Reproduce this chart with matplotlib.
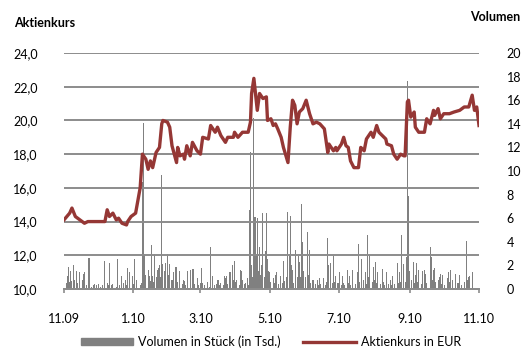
import matplotlib.pyplot as plt
from matplotlib.patches import Patch
from matplotlib.lines import Line2D
import pandas as pd

# Tage seit 01.11.2009
kurs_tag = [0, 5, 7, 10, 14, 18, 21, 36, 38, 40, 43, 46, 48, 51, 55, 56, 59, 63,
            67, 69, 72, 74, 76, 78, 81, 84, 86, 87, 91, 93, 95, 99, 100, 102, 105,
            106, 108, 111, 113, 117, 120, 122, 127, 129, 133, 135, 138, 142, 144,
            149, 150, 153, 157, 162, 164, 165, 167, 170, 172, 175, 178, 179, 182,
            184, 186, 188, 191, 193, 197, 199, 201, 203, 205, 207, 210, 213, 216,
            219, 222, 225, 229, 232, 233, 237, 239, 240, 244, 246, 248, 250, 252,
            255, 259, 261, 264, 266, 270, 272, 275, 277, 280, 283, 284, 288, 290,
            293, 296, 299, 300, 301, 302, 303, 305, 308, 309, 312, 317, 319, 322,
            325, 326, 329, 331, 334, 339, 343, 348, 352, 356, 359, 361, 363, 365]
kurs = [14.1, 14.5, 14.8, 14.3, 14.1, 13.9, 14.0, 14.0, 14.7, 14.3, 14.5, 14.1, 14.2,
        13.9, 13.8, 14.0, 14.3, 14.5, 16.0, 18.0, 17.7, 17.1, 17.6, 17.2, 18.1, 18.4,
        19.8, 20.0, 19.9, 19.6, 18.5, 17.5, 18.4, 17.9, 18.0, 17.7, 18.5, 17.9, 18.7,
        18.2, 18.0, 19.0, 18.9, 19.7, 19.3, 19.6, 19.1, 18.7, 19.0, 19.0, 19.3, 19.0,
        19.3, 19.3, 19.9, 21.6, 22.5, 20.6, 21.6, 21.3, 21.4, 20.0, 20.1, 19.7, 19.8,
        19.5, 19.0, 18.4, 17.5, 19.6, 21.2, 20.9, 19.8, 20.5, 20.7, 21.2, 20.4, 19.8,
        19.9, 19.8, 19.5, 18.1, 18.6, 18.2, 18.4, 18.2, 18.6, 19.0, 18.5, 18.4, 17.6,
        17.2, 17.2, 18.4, 18.2, 18.9, 19.3, 19.0, 19.7, 19.3, 19.1, 18.9, 18.6, 18.5,
        18.0, 17.7, 18.0, 17.9, 17.9, 19.5, 21.1, 21.2, 20.2, 20.5, 19.6, 19.3, 19.3,
        20.1, 19.8, 20.6, 20.3, 20.7, 20.1, 20.4, 20.4, 20.5, 20.6, 20.8, 20.8, 21.5,
        20.6, 20.8, 19.7]

vol_tag = [2, 3, 4, 5, 6, 7, 8, 9, 11, 12, 14, 16, 17, 18, 20, 22, 24, 26, 27, 29,
           30, 32, 34, 36, 38, 39, 40, 42, 43, 46, 47, 49, 51, 52, 54, 55, 56, 58,
           60, 61, 62, 64, 67, 68, 69, 70, 71, 72, 74, 75, 76, 77, 78, 79, 80, 81,
           82, 83, 84, 85, 86, 87, 88, 89, 91, 92, 93, 95, 96, 98, 99, 100, 102,
           104, 105, 106, 107, 109, 111, 113, 114, 115, 117, 118, 120, 121, 122,
           124, 126, 128, 129, 131, 132, 134, 135, 136, 137, 138, 140, 141, 142,
           143, 144, 146, 148, 149, 150, 151, 152, 154, 155, 156, 157, 159, 160,
           161, 162, 163, 164, 165, 166, 167, 168, 169, 170, 171, 172, 173, 174,
           175, 176, 177, 178, 179, 180, 181, 182, 184, 185, 186, 187, 189, 190,
           192, 193, 194, 196, 197, 198, 199, 200, 201, 202, 204, 205, 206, 207,
           208, 209, 210, 211, 212, 214, 215, 216, 217, 219, 221, 223, 224, 225,
           226, 228, 230, 231, 232, 233, 234, 236, 237, 238, 239, 241, 242, 244,
           245, 246, 247, 249, 250, 251, 252, 254, 256, 258, 259, 260, 262, 263,
           265, 266, 267, 268, 269, 271, 272, 273, 274, 275, 276, 278, 280, 281,
           282, 284, 285, 287, 288, 289, 291, 293, 294, 295, 296, 297, 299, 300,
           301, 302, 303, 304, 306, 307, 308, 309, 310, 311, 312, 314, 315, 317,
           318, 319, 322, 323, 324, 325, 326, 327, 329, 330, 331, 332, 333, 335,
           337, 338, 339, 340, 342, 344, 346, 347, 348, 350, 352, 354, 355, 356,
           357, 359]
volumen = [0.5, 1.1, 1.9, 0.6, 1.5, 0.7, 2.0, 0.8, 1.5, 0.5, 1.4, 0.8, 1.3, 1.4, 0.3,
           2.6, 0.2, 0.3, 0.4, 0.3, 0.4, 0.2, 0.3, 2.4, 0.5, 0.3, 2.2, 0.3, 0.4, 0.2,
           2.5, 0.3, 1.1, 0.5, 0.8, 0.3, 1.8, 1.4, 1.1, 0.4, 2.5, 0.8, 0.3, 0.5, 9.1,
           14.1, 3.0, 1.2, 1.6, 1.1, 0.7, 3.7, 1.1, 0.6, 3.0, 1.0, 1.6, 1.8, 2.0, 1.0,
           9.7, 2.1, 1.5, 2.2, 3.0, 1.2, 2.1, 0.8, 1.4, 1.9, 1.9, 0.6, 1.5, 0.4, 0.8,
           0.7, 0.3, 1.5, 1.6, 1.7, 1.7, 0.4, 0.9, 0.3, 0.5, 1.8, 0.5, 0.3, 0.6, 0.2,
           3.6, 1.1, 0.3, 0.4, 0.8, 0.8, 0.3, 0.5, 0.3, 1.1, 0.9, 1.1, 0.4, 1.4, 2.0,
           0.8, 2.4, 0.6, 0.8, 0.3, 1.6, 1.5, 0.8, 0.4, 0.5, 0.9, 0.3, 6.7, 11.6, 2.0,
           1.0, 14.5, 6.1, 3.0, 6.0, 1.5, 3.6, 1.2, 2.0, 6.4, 1.0, 3.2, 6.4, 2.5, 1.5,
           1.4, 0.6, 0.9, 0.5, 1.2, 1.4, 0.4, 1.1, 0.5, 2.4, 0.7, 1.0, 6.5, 3.0, 6.2,
           2.0, 1.6, 0.5, 3.3, 1.0, 2.8, 2.3, 1.0, 7.2, 4.0, 1.5, 1.0, 4.8, 1.2, 3.3,
           0.5, 0.8, 0.4, 0.8, 0.3, 0.9, 0.4, 0.9, 0.3, 0.6, 4.3, 2.0, 2.2, 0.5, 2.8,
           0.6, 1.1, 0.5, 1.4, 0.3, 1.1, 0.5, 0.3, 1.6, 0.5, 1.1, 0.3, 1.6, 0.4, 1.4,
           3.8, 0.6, 2.5, 0.8, 1.4, 0.4, 4.6, 1.0, 2.9, 0.6, 1.9, 0.8, 2.3, 0.5, 1.4,
           0.4, 1.7, 0.6, 0.3, 1.4, 0.4, 0.8, 0.3, 1.1, 0.4, 2.2, 0.5, 1.4, 0.6, 4.6,
           2.1, 0.6, 2.7, 17.6, 7.9, 1.5, 0.8, 2.3, 0.5, 1.2, 2.2, 0.6, 1.6, 0.4, 1.5,
           1.6, 1.3, 0.5, 3.6, 2.7, 0.8, 1.6, 1.8, 0.6, 0.8, 1.0, 1.3, 0.4, 1.2, 0.3,
           0.9, 1.4, 0.6, 1.6, 0.8, 1.3, 0.5, 0.5, 1.2, 0.3, 0.6, 4.1, 0.8, 1.0, 1.1,
           1.4]

monat_tag = [0, 61, 120, 181, 242, 304, 365]
monat_label = ["11.09", "1.10", "3.10", "5.10", "7.10", "9.10", "11.10"]

start = pd.Timestamp("2009-11-01")
kurs_x = start + pd.to_timedelta(kurs_tag, unit="D")
vol_x = start + pd.to_timedelta(vol_tag, unit="D")
monat_x = start + pd.to_timedelta(monat_tag, unit="D")

plt.rcParams["font.family"] = ["Lato", "DejaVu Sans"]
plt.rcParams["font.size"] = 9

rot = "#953735"
grau = "#808080"

fig = plt.figure(figsize=(5.21, 3.49), dpi=100)
ax = fig.add_axes([0.1228, 0.172, 0.7966, 0.676])
ax2 = ax.twinx()

ax2.bar(vol_x, volumen, width=0.9, color=grau, linewidth=0)
ax2.set_ylim(0, 20)
ax2.set_yticks(range(0, 21, 2))

ax.plot(kurs_x, kurs, color=rot, linewidth=2.4, solid_joinstyle="round")
ax.set_ylim(10, 24)
ax.set_yticks(range(10, 25, 2))
ax.set_yticklabels([f"{v},0" for v in range(10, 25, 2)])
ax.set_xlim(monat_x[0], monat_x[-1])
ax.set_xticks(monat_x)
ax.set_xticklabels(monat_label)
ax.grid(axis="y", color="#8c8c8c", linewidth=1.4)
ax.set_axisbelow(True)
ax.set_zorder(ax2.get_zorder() + 1)
ax.patch.set_visible(False)

for a in (ax, ax2):
    for s in ("top", "left", "right"):
        a.spines[s].set_visible(False)
    a.spines["bottom"].set_color("#8c8c8c")
    a.spines["bottom"].set_linewidth(1.4)

ax.tick_params(axis="y", length=0, pad=19)
ax.tick_params(axis="x", length=3, color="#8c8c8c", width=1.2, pad=14)
ax2.tick_params(axis="y", length=0, pad=20)

fig.text(0.027, 0.935, "Aktienkurs", fontweight="bold", ha="left", va="center")
fig.text(0.998, 0.95, "Volumen", fontweight="bold", ha="right", va="center")

handles = [Patch(color=grau), Line2D([], [], color=rot, linewidth=2.4)]
fig.legend(handles, ["Volumen in Stück (in Tsd.)", "Aktienkurs in EUR"],
           loc="center", bbox_to_anchor=(0.52, 0.02), ncol=2, frameon=False,
           handlelength=4.2, handleheight=0.5, columnspacing=1.8, handletextpad=0.4)

fig.savefig("out.png", dpi=100)
